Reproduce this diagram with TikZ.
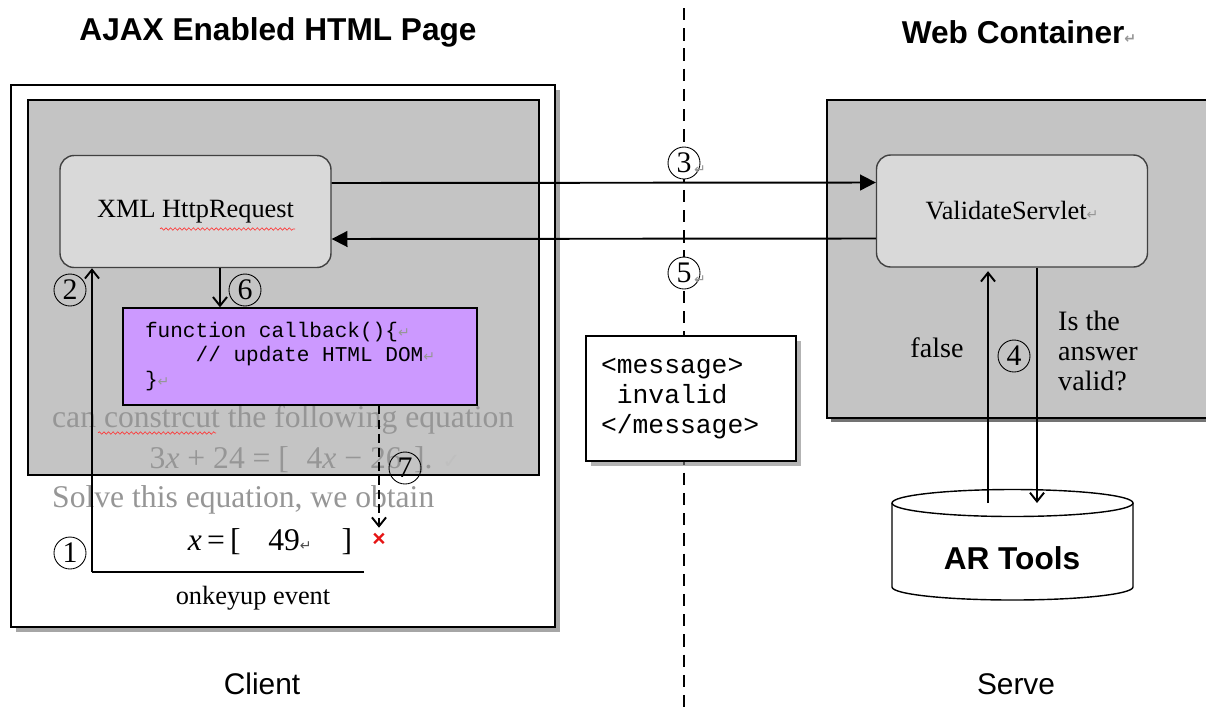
\documentclass[tikz,border=0pt]{standalone}
\usepackage{fontspec}
\setmainfont{Liberation Serif}
\setsansfont{Liberation Sans}
\setmonofont{Liberation Mono}
\newfontfamily\symfont{DejaVu Sans}
\usetikzlibrary{arrows.meta,positioning,shadows,decorations.pathmorphing}
\definecolor{panelgray}{RGB}{196,196,196}
\definecolor{boxgray}{RGB}{217,217,217}
\definecolor{cbpurple}{RGB}{204,153,255}
\definecolor{fadedtext}{RGB}{150,150,150}
\definecolor{markgray}{RGB}{150,150,150}
\definecolor{wrongred}{RGB}{230,20,20}

% paragraph mark as the editor shows it
\newcommand{\pmark}{{\symfont\color{markgray}\fontsize{8}{8}\selectfont ↵}}
% one fixed pitch blank in code text
\newcommand{\tsp}{\hspace*{0.6em}}

\begin{document}
\begin{tikzpicture}[x=0.02cm, y=-0.02cm,
    heading/.style={font=\sffamily\bfseries\fontsize{18}{18}\selectfont},
    side/.style={font=\sffamily\fontsize{17}{17}\selectfont},
    stepnum/.style={circle, draw, line width=0.5pt, inner sep=0pt, minimum size=0.64cm,
      font=\fontsize{17}{17}\selectfont},
    roundbox/.style={rectangle, rounded corners=8pt, draw=black!75, line width=0.8pt,
      fill=boxgray, minimum width=5.42cm, minimum height=2.24cm, font=\fontsize{15}{15}\selectfont},
    flow/.style={line width=1.1pt, -{Straight Barb[length=5pt,width=8pt]}},
    call/.style={line width=1.1pt, -{Triangle[length=9pt,width=9pt]}},
    faded/.style={text=fadedtext, font=\fontsize{18}{18}\selectfont},
    spell/.style={red!80, line width=0.35pt, decorate,
      decoration={snake, amplitude=0.7pt, segment length=2.6pt}}]
  \useasboundingbox (0,0) rectangle (1206,707);

  % client side: page and panel
  \node[draw, line width=0.9pt, fill=white,
        drop shadow={shadow xshift=3pt, shadow yshift=-3pt, opacity=0.7},
        minimum width=10.88cm, minimum height=10.84cm] (page) at (283,356) {};
  \node[draw, line width=0.9pt, fill=panelgray,
        minimum width=10.22cm, minimum height=7.5cm] (panel) at (283.5,287.5) {};

  % server side panel, open to the right
  \fill[black!55] (831,104) rectangle (1206,422);
  \fill[panelgray] (827,100) rectangle (1206,418);
  \draw[line width=0.9pt] (1206,100) -- (827,100) -- (827,418) -- (1206,418);

  % divider between client and server
  \draw[line width=1.1pt, dash pattern=on 7pt off 4.5pt] (684,8) -- (684,707);

  \node[heading] (ajax) at (278,32) {AJAX Enabled HTML Page};
  \node[heading] (web) at (1019,32) {Web Container\pmark};
  \node[side] (client) at (262,684) {Client};
  \node[side] (serve) at (1016,684) {Serve};

  % page content
  \node[faded, anchor=west] (line1) at (46,420) {can constrcut the following equation};
  \draw[spell] (98,433) -- (216,433);
  \node[faded] (line2) at (305,460)
    {3\textit{x} + 24 = [\hspace{0.35cm}4\textit{x} − 26\hspace{0.25cm}].\hspace{0.2cm}{\symfont\fontsize{12}{12}\selectfont\color{black!25}✓}};
  \node[faded, anchor=west] (line3) at (46,500) {Solve this equation, we obtain};
  \node[font=\fontsize{18}{18}\selectfont] (answer) at (270,542)
    {\textit{x}\,=\,[\hspace{0.55cm}49{\symfont\color{black!70}\fontsize{8}{8}\selectfont ↵}\hspace{0.6cm}]};
  \node[text=wrongred, font=\sffamily\bfseries\fontsize{13}{13}\selectfont, inner sep=1pt] (wrong) at (379,540) {×};
  \node[font=\fontsize{15}{15}\selectfont] (keyup) at (253,598) {onkeyup event};

  \node[roundbox] (xhr) at (195.5,211.5) {XML HttpRequest};
  \draw[spell] (160,229) -- (295,229);
  \node[draw, line width=0.8pt, fill=cbpurple, inner xsep=0.44cm, text width=6.2cm,
        minimum height=1.94cm, align=left, font=\ttfamily\fontsize{12}{14.2}\selectfont] (cb)
    at (300,356.5) {function\tsp callback()\{\pmark\\
      \tsp\tsp\tsp\tsp//\tsp update\tsp HTML\tsp DOM\pmark\\
      \}\pmark};

  % server content
  \node[roundbox] (vs) at (1012,211) {ValidateServlet\pmark};
  \node[draw, line width=0.8pt, fill=white,
        drop shadow={shadow xshift=3pt, shadow yshift=-3pt, opacity=0.6},
        inner xsep=0.3cm, text width=3.6cm, minimum height=2.5cm, align=left,
        font=\ttfamily\fontsize{15}{17}\selectfont] (msg) at (691,398.5)
    {<message>\\\tsp invalid\\</message>};

  % AR Tools store
  \coordinate (dbtop) at (1012.5,503);
  \draw[line width=0.8pt, fill=white] (892,503) -- (892,587)
    arc[start angle=180, end angle=360, x radius=2.41cm, y radius=0.26cm] -- (1133,503);
  \draw[line width=0.8pt, fill=white] (dbtop) ellipse[x radius=2.41cm, y radius=0.27cm];
  \node[font=\sffamily\bfseries\fontsize{18}{18}\selectfont] (db) at (1012,558) {AR Tools};

  % request and response
  \coordinate (keyend) at (364,572);
  \coordinate (keycorner) at (92,572);
  \draw[line width=1.1pt] (keyend) -- (keycorner);
  \draw[flow] (keycorner) -- (keycorner |- xhr.south);
  \draw[flow] ([xshift=0.49cm]xhr.south) -- ([xshift=0.49cm]xhr.south |- cb.north);
  \draw[call] ([yshift=0.57cm]xhr.east) -- ([yshift=0.57cm]vs.west);
  \draw[call] ([yshift=-0.55cm]vs.west) -- ([yshift=-0.55cm]xhr.east);
  \draw[flow] ([xshift=0.5cm]vs.south) -- ([xshift=0.5cm]vs.south |- dbtop);
  \draw[flow] ([xshift=-0.48cm]vs.south |- dbtop) -- ([xshift=-0.48cm,yshift=-2pt]vs.south);
  \draw[flow, dash pattern=on 5pt off 3pt] (cb.south -| wrong) -- ([yshift=2pt]wrong.north);

  % step numbers
  \node[stepnum] (s1) at (70,553) {1};
  \node[stepnum] (s2) at (70,290) {2};
  \node[stepnum, fill=white] (s3) at (684,163) {3};
  \node[right=-1pt of s3.south east, anchor=south west, inner sep=0pt] {\pmark};
  \node[stepnum] (s4) at (1014,356) {4};
  \node[stepnum, fill=white] (s5) at (684,273) {5};
  \node[right=-1pt of s5.south east, anchor=south west, inner sep=0pt] {\pmark};
  \node[stepnum] (s6) at (245,290) {6};
  \node[stepnum] (s7) at (405,468) {7};

  \node[font=\fontsize{16}{16}\selectfont] (false) at (937,348) {false};
  \node[anchor=west, align=left, font=\fontsize{16}{17}\selectfont] (valid) at (1052,351)
    {Is the\\answer\\valid?};
\end{tikzpicture}
\end{document}
